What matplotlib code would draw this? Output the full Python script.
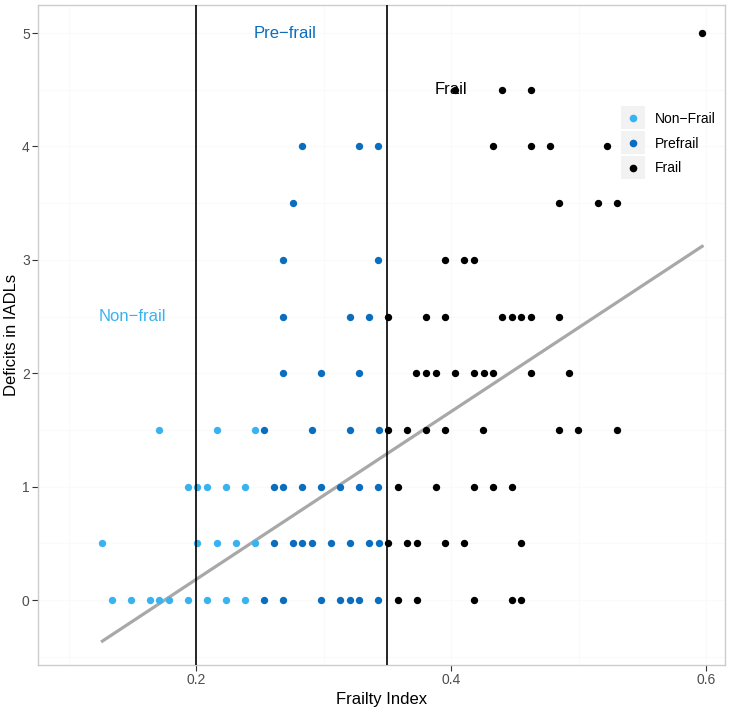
import numpy as np
import matplotlib
matplotlib.use('Agg')
from matplotlib import pyplot as plt
from matplotlib.lines import Line2D

plt.rcParams['font.family'] = ['Liberation Sans', 'DejaVu Sans']

# frailty index / IADL deficits, one group at a time
nonfrail_fi = [0.1344, 0.149, 0.1639, 0.1712, 0.1788, 0.1937, 0.2086, 0.2235, 0.2384,
               0.1265, 0.201, 0.2162, 0.2311, 0.246,
               0.1937, 0.201, 0.2086, 0.2235, 0.2384,
               0.1712, 0.2162, 0.246]
nonfrail_iadl = [0] * 9 + [0.5] * 5 + [1] * 5 + [1.5] * 3

prefrail_fi = [0.2533, 0.2682, 0.2983, 0.3132, 0.3208, 0.3281, 0.3430,
               0.2609, 0.2758, 0.2834, 0.291, 0.3059, 0.3208, 0.3357, 0.3433,
               0.2609, 0.2685, 0.2834, 0.2983, 0.3132, 0.3281, 0.3430,
               0.2533, 0.291, 0.3208, 0.3433,
               0.2682, 0.2983, 0.3281,
               0.2682, 0.3208, 0.3357,
               0.2682, 0.3430,
               0.2758,
               0.2834, 0.3281, 0.3430]
prefrail_iadl = ([0] * 7 + [0.5] * 8 + [1] * 7 + [1.5] * 4 + [2] * 3 + [2.5] * 3
                 + [3] * 2 + [3.5] * 1 + [4] * 3)

frail_fi = [0.3582, 0.3731, 0.4178, 0.4478, 0.4552,
            0.3506, 0.3657, 0.3731, 0.3956, 0.4105, 0.4552,
            0.3582, 0.388, 0.4178, 0.4329, 0.4478,
            0.3506, 0.3657, 0.3806, 0.3955, 0.4253, 0.4849, 0.4998, 0.5300,
            0.3728, 0.3804, 0.388, 0.4031, 0.4180, 0.4256, 0.4329, 0.4630, 0.4928,
            0.3508, 0.3806, 0.3955, 0.4402, 0.4478, 0.4551, 0.4627, 0.4849,
            0.3955, 0.4104, 0.418,
            0.4849, 0.5151, 0.5300,
            0.4327, 0.4627, 0.4776, 0.5224,
            0.4031, 0.4402, 0.4627,
            0.5969]
frail_iadl = ([0] * 5 + [0.5] * 6 + [1] * 5 + [1.5] * 8 + [2] * 9 + [2.5] * 8
              + [3] * 3 + [3.5] * 3 + [4] * 4 + [4.5] * 3 + [5] * 1)

# fitted line as it appears in the picture (points overlap, so a refit drifts)
fit_slope = 7.40
fit_intercept = -1.298

cutoffs = [0.2, 0.35]
col_non = '#38B3F0'
col_pre = '#0A6DBE'
col_frail = '#000000'

fig = plt.figure(figsize=(7.4, 7.14), dpi=100)
ax = fig.add_axes([0.0514, 0.0686, 0.9286, 0.9244])

all_fi = np.array(nonfrail_fi + prefrail_fi + frail_fi)
xfit = np.array([all_fi.min(), all_fi.max()])
ax.plot(xfit, fit_intercept + fit_slope * xfit, color='#A8A8A8', lw=2.3, zorder=2)

ax.scatter(nonfrail_fi, nonfrail_iadl, s=28, color=col_non, lw=0, zorder=3)
ax.scatter(prefrail_fi, prefrail_iadl, s=28, color=col_pre, lw=0, zorder=3)
ax.scatter(frail_fi, frail_iadl, s=28, color=col_frail, lw=0, zorder=3)

for c in cutoffs:
    ax.axvline(c, color='black', lw=1.2, zorder=4)

ax.text(0.15, 2.5, 'Non\u2212frail', color=col_non, fontsize=12, ha='center', va='center', zorder=5)
ax.text(0.27, 5.0, 'Pre\u2212frail', color=col_pre, fontsize=12, ha='center', va='center', zorder=5)
ax.text(0.40, 4.5, 'Frail', color='black', fontsize=12, ha='center', va='center', zorder=5)

ax.set_xlim(0.076, 0.615)
ax.set_ylim(-0.573, 5.247)
ax.set_xticks([0.2, 0.4, 0.6])
ax.set_xticklabels(['0.2', '0.4', '0.6'])
ax.set_yticks([0, 1, 2, 3, 4, 5])
ax.set_xticks([0.1, 0.3, 0.5], minor=True)
ax.set_yticks([-0.5, 0.5, 1.5, 2.5, 3.5, 4.5], minor=True)
ax.grid(which='both', color='#FAFAFA', lw=0.8)
ax.set_axisbelow(True)
ax.tick_params(which='major', colors='#333333', labelcolor='#4D4D4D', labelsize=10,
               length=4, width=0.8, pad=2)
ax.tick_params(which='minor', length=0)
for sp in ax.spines.values():
    sp.set_color('#CCCCCC')
    sp.set_linewidth(1.0)
ax.set_xlabel('Frailty Index', fontsize=12, labelpad=3)
ax.set_ylabel('Deficits in IADLs', fontsize=12, labelpad=2)

handles = [Line2D([], [], ls='', marker='o', ms=5.5, color=c, mec='none')
           for c in [col_non, col_pre, col_frail]]
leg = ax.legend(handles, ['Non\u2212Frail', 'Prefrail', 'Frail'], loc='upper right',
                bbox_to_anchor=(1.0, 0.853), frameon=False, fontsize=10,
                handlelength=1.2, handletextpad=0.95, labelspacing=0.78, borderpad=0.2)
leg.set_zorder(6)
# grey key boxes like ggplot, drawn under the legend
fig.canvas.draw()
inv = ax.transAxes.inverted()
for h in leg.legend_handles:
    bb = h.get_window_extent(fig.canvas.get_renderer())
    cx, cy = (bb.x0 + bb.x1) / 2, (bb.y0 + bb.y1) / 2
    (x0, y0), (x1, y1) = inv.transform([(cx - 12, cy - 11.5), (cx + 12, cy + 11.5)])
    ax.add_patch(plt.Rectangle((x0, y0), x1 - x0, y1 - y0, transform=ax.transAxes,
                               color='#F2F2F2', lw=0, zorder=5.5))

fig.savefig('out.png', dpi=100)
